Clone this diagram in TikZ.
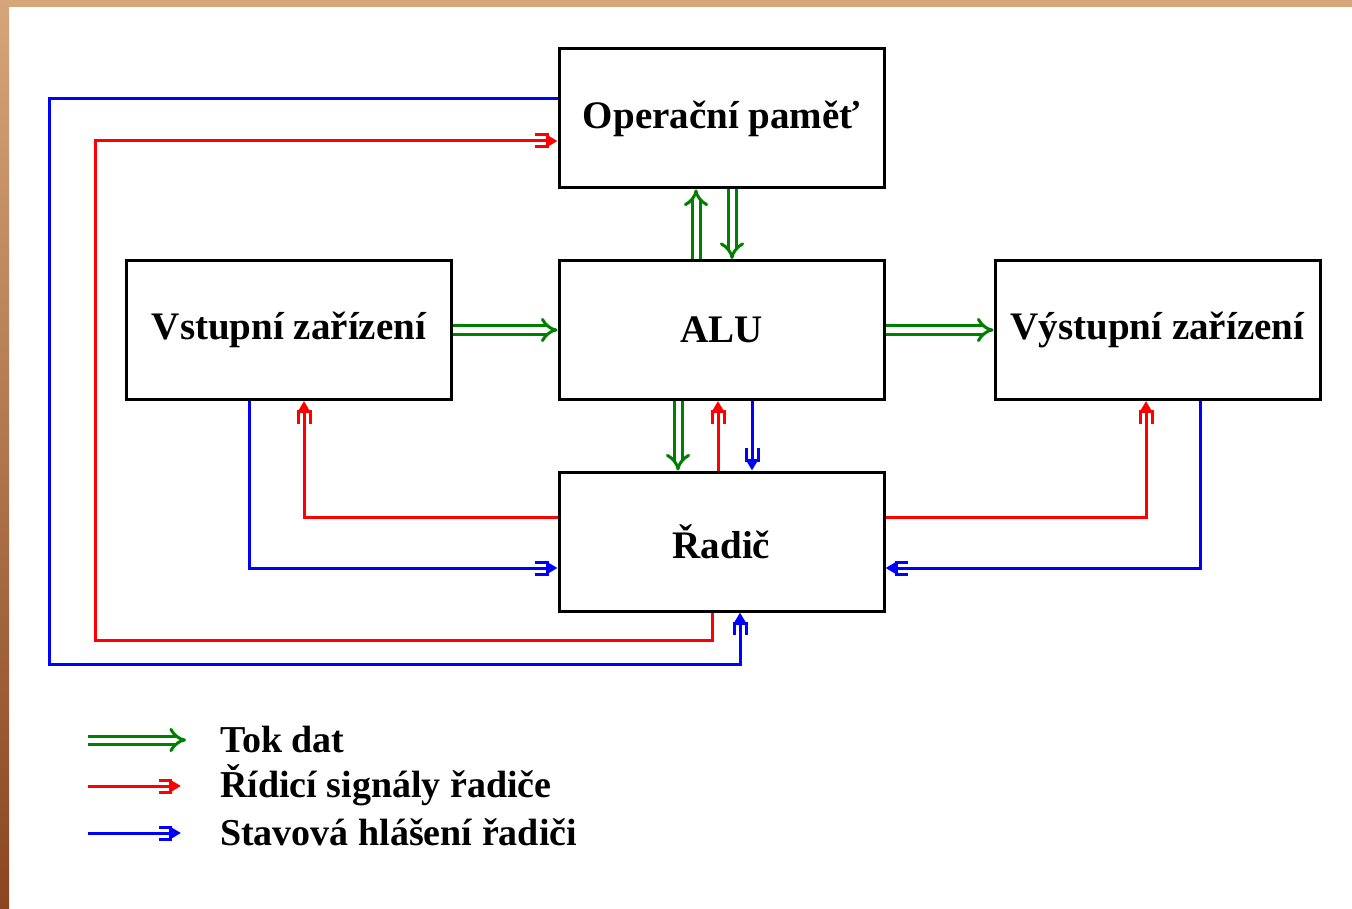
\documentclass[tikz,border=0pt]{standalone}
\usepackage{fontspec}
\setmainfont{Liberation Serif}
\usetikzlibrary{arrows.meta,calc}
\definecolor{tan}{HTML}{D6A57A}
\definecolor{brownb}{HTML}{8A4621}
\definecolor{dgreen}{HTML}{008000}
\tikzset{
  box/.style={draw=black, line width=3pt, minimum width=325pt, minimum height=139pt, inner sep=0pt,
    font=\fontsize{39}{42}\selectfont\bfseries},
  flow/.style={draw=dgreen, line width=3pt, double=white, double distance=5pt,
    -{Implies[length=12pt,width=22pt]}},
  sig/.style={line width=3pt, -{Bracket[length=12pt,width=15pt,line width=3pt,sep=-2pt] Triangle[length=11pt,width=12pt,sep=0pt]}},
  ctrl/.style={sig, draw=red, color=red},
  stat/.style={sig, draw=blue, color=blue},
  legtext/.style={anchor=west, inner sep=0pt, font=\fontsize{38}{41}\selectfont\bfseries}
}
\begin{document}
\begin{tikzpicture}[x=1pt,y=-1pt]
\useasboundingbox (0,0) rectangle (1352,909);
\fill[white] (0,0) rectangle (1352,909);
\fill[tan] (0,0) rectangle (1352,7);
\shade[top color=tan, bottom color=brownb] (0,0) rectangle (9,909);

\node[box] (op)  at (721.5,118.5) {Operační paměť};
\node[box] (vst) at (289,330) {Vstupní zařízení};
\node[box] (alu) at (721.5,330) {ALU};
\node[box] (vys) at (1157.5,330) {Výstupní zařízení};
\node[box] (rad) at (721.5,541.5) {Řadič};

% data flow
\draw[flow] (vst.east) -- (alu.west);
\draw[flow] (alu.east) -- (vys.west);
\draw[flow] (alu.north -| 696,0) -- (op.south -| 696,0);
\draw[flow] (op.south -| 732,0) -- (alu.north -| 732,0);
\draw[flow] (alu.south -| 678,0) -- (rad.north -| 678,0);

% control signals
\draw[ctrl] (rad.north -| 718,0) -- (alu.south -| 718,0);
\draw[ctrl] (rad.west |- 0,517) -- (304,517) -- (vst.south -| 304,0);
\draw[ctrl] (rad.east |- 0,517) -- (1146,517) -- (vys.south -| 1146,0);
\draw[ctrl] (rad.south -| 712,0) -- (712,640) -- (95,640) -- (95,141) -- (op.west |- 0,141);

% status
\draw[stat] (alu.south -| 752,0) -- (rad.north -| 752,0);
\draw[stat] (vst.south -| 249,0) -- (249,568) -- (rad.west |- 0,568);
\draw[stat] (vys.south -| 1200,0) -- (1200,568) -- (rad.east |- 0,568);
\draw[stat] (op.west |- 0,99) -- (49,99) -- (49,664) -- (740,664) -- (rad.south -| 740,0);

% legend
\coordinate (g1) at (88,740);  \coordinate (g2) at (186,740);
\coordinate (r1) at (88,786);  \coordinate (r2) at (181,786);
\coordinate (b1) at (88,833);  \coordinate (b2) at (181,833);
\draw[flow] (g1) -- (g2);
\draw[ctrl] (r1) -- (r2);
\draw[stat] (b1) -- (b2);
\node[legtext] (t1) at (220,739) {Tok dat};
\node[legtext] (t2) at (220,785) {Řídicí signály řadiče};
\node[legtext] (t3) at (220,832) {Stavová hlášení řadiči};
\end{tikzpicture}
\end{document}
